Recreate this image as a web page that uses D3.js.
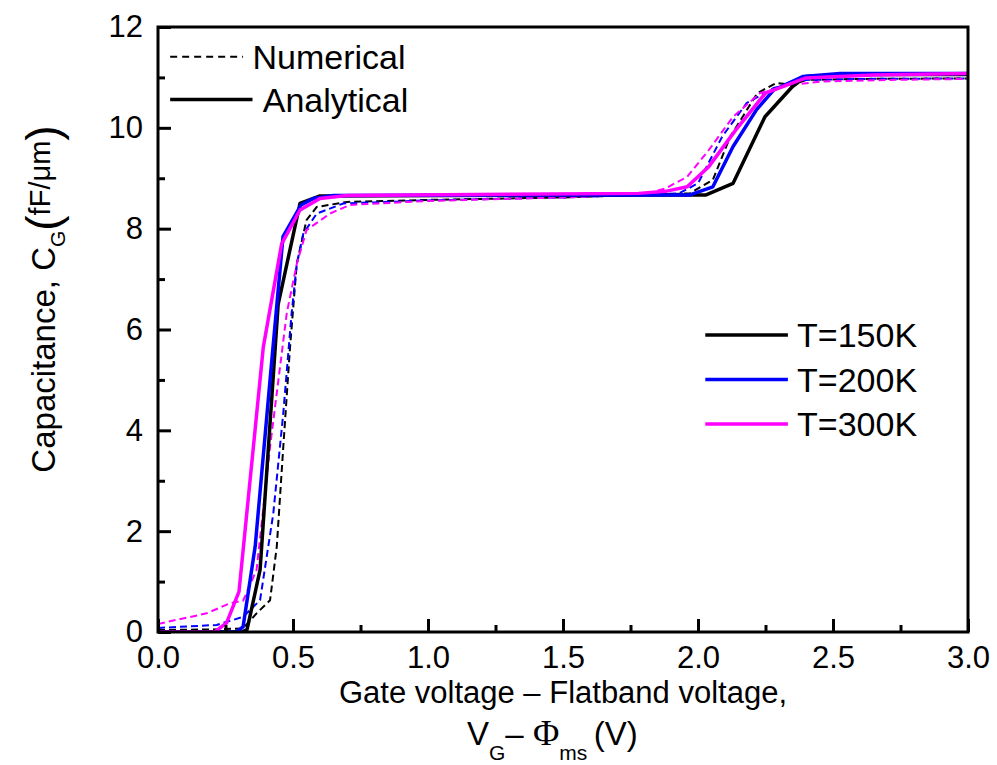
<!DOCTYPE html>
<html lang="en">
<head>
  <meta charset="UTF-8" />
  <title>Gate capacitance vs voltage</title>
  <script src="https://cdn.jsdelivr.net/npm/d3@7/dist/d3.min.js"></script>
  <style>
    body { margin: 0; background: #fff; font-family: Arial, "Liberation Sans", sans-serif; }
    #viz { width: 997px; height: 765px; }
    text { font-family: Arial, "Liberation Sans", sans-serif; fill: #000; }
  </style>
</head>
<body>
  <div id="viz"></div>

  <script>
  // Analytical (solid) curves, [V, C]
  const ana150 = [[0,0],[0.31,0],[0.33,0.05],[0.378,1.23],[0.445,6.5],[0.526,8.5],[0.6,8.65],[1.8,8.67],[2.03,8.67],[2.13,8.9],[2.248,10.22],[2.35,10.82],[2.40,11.02],[2.55,11.06],[3.0,11.06]];
  const ana200 = [[0,0],[0.29,0],[0.315,0.1],[0.36,1.7],[0.415,5.0],[0.463,7.84],[0.53,8.47],[0.575,8.6],[0.65,8.66],[1.8,8.67],[1.97,8.67],[2.055,8.83],[2.13,9.63],[2.217,10.36],[2.28,10.75],[2.39,11.02],[2.526,11.08],[3.0,11.08]];
  const ana300 = [[0,0],[0.21,0],[0.254,0.18],[0.30,0.8],[0.39,5.65],[0.458,7.7],[0.526,8.37],[0.6,8.6],[0.7,8.66],[1.78,8.7],[1.88,8.74],[1.96,8.83],[2.04,9.23],[2.14,9.96],[2.25,10.69],[2.40,10.99],[2.65,11.05],[3.0,11.08]];
  // Numerical (dashed) curves
  const num150 = [[0,0.04],[0.2,0.05],[0.315,0.07],[0.365,0.37],[0.415,0.63],[0.44,1.7],[0.464,3.67],[0.489,5.65],[0.514,7.3],[0.55,8.17],[0.588,8.43],[0.7,8.53],[1.0,8.57],[1.5,8.62],[1.97,8.7],[2.055,8.97],[2.12,9.83],[2.22,10.69],[2.29,10.89],[2.35,10.85],[2.40,10.95],[2.6,10.97],[3.0,10.98]];
  const num200 = [[0,0.08],[0.217,0.14],[0.315,0.3],[0.378,0.63],[0.427,2.35],[0.464,4.34],[0.495,6.33],[0.514,7.3],[0.538,7.9],[0.588,8.3],[0.686,8.5],[1.0,8.56],[1.5,8.62],[1.93,8.7],[2.0,8.9],[2.09,9.83],[2.18,10.49],[2.28,10.79],[2.40,10.95],[2.6,10.97],[3.0,10.98]];
  const num300 = [[0,0.16],[0.18,0.37],[0.267,0.57],[0.315,0.62],[0.365,1.23],[0.415,3.67],[0.477,6.33],[0.514,7.3],[0.55,7.97],[0.637,8.3],[0.71,8.47],[1.0,8.55],[1.5,8.62],[1.8,8.68],[1.88,8.8],[1.96,9.03],[2.04,9.56],[2.13,10.22],[2.23,10.69],[2.34,10.85],[2.46,10.92],[2.7,10.95],[3.0,10.97]];

  const series = [
    { data: num150, color: '#000000', dashed: true },
    { data: num200, color: '#0000ff', dashed: true },
    { data: num300, color: '#ff00ff', dashed: true },
    { data: ana150, color: '#000000', dashed: false },
    { data: ana200, color: '#0000ff', dashed: false },
    { data: ana300, color: '#ff00ff', dashed: false }
  ];

  const xMajor = [0, 0.5, 1.0, 1.5, 2.0, 2.5, 3.0];
  const xMinor = [0.25, 0.75, 1.25, 1.75, 2.25, 2.75];
  const yMajor = [0, 2, 4, 6, 8, 10, 12];
  const yMinor = [1, 3, 5, 7, 9, 11];

  const tempLegend = [
    { label: 'T=150K', color: '#000000' },
    { label: 'T=200K', color: '#0000ff' },
    { label: 'T=300K', color: '#ff00ff' }
  ];

  function drawViz() {
    const margin = { top: 27, right: 29, bottom: 133, left: 158 };
    const W = 997, H = 765;
    const width = W - margin.left - margin.right;
    const height = H - margin.top - margin.bottom;

    const svg = d3.select('#viz').append('svg')
      .attr('width', W).attr('height', H);
    const g = svg.append('g')
      .attr('transform', `translate(${margin.left},${margin.top})`);

    const x = d3.scaleLinear().domain([0, 3]).range([0, width]);
    const y = d3.scaleLinear().domain([0, 12]).range([height, 0]);

    g.append('clipPath').attr('id', 'clip')
      .append('rect').attr('width', width).attr('height', height);

    // Curves
    const line = d3.line().x(d => x(d[0])).y(d => y(d[1]));
    g.append('g').attr('clip-path', 'url(#clip)')
      .selectAll('path').data(series).enter()
      .append('path')
        .attr('d', d => line(d.data))
        .attr('fill', 'none')
        .attr('stroke', d => d.color)
        .attr('stroke-width', d => d.dashed ? 2 : 3.5)
        .attr('stroke-dasharray', d => d.dashed ? '7 4' : null)
        .attr('stroke-linejoin', 'round');

    // Axes (inward ticks)
    const xAx = g.append('g').attr('transform', `translate(0,${height})`)
      .call(d3.axisBottom(x).tickValues(xMajor).tickSize(-13).tickPadding(14).tickFormat(d3.format('.1f')));
    g.append('g').attr('transform', `translate(0,${height})`)
      .call(d3.axisBottom(x).tickValues(xMinor).tickSize(-7).tickFormat(''));
    g.append('g')
      .call(d3.axisLeft(y).tickValues(yMajor).tickSize(-13).tickPadding(15).tickFormat(d3.format('d')));
    g.append('g')
      .call(d3.axisLeft(y).tickValues(yMinor).tickSize(-7).tickFormat(''));
    g.selectAll('.domain').remove();
    g.selectAll('.tick line').attr('stroke', '#000').attr('stroke-width', 3);
    g.selectAll('.tick text').style('font-size', '31px').attr('fill', '#000');
    xAx.selectAll('.tick text').attr('dy', '0.7em');

    // Frame
    g.append('rect').attr('width', width).attr('height', height)
      .attr('fill', 'none').attr('stroke', '#000').attr('stroke-width', 3);

    // Legend: line styles
    const leg1 = g.append('g');
    leg1.append('line')
      .attr('x1', x(0.045)).attr('x2', x(0.315)).attr('y1', y(11.41)).attr('y2', y(11.41))
      .attr('stroke', '#000').attr('stroke-width', 2).attr('stroke-dasharray', '7 5');
    leg1.append('text').attr('x', x(0.35)).attr('y', y(11.41)).attr('dy', '0.36em')
      .style('font-size', '34px').text('Numerical');
    leg1.append('line')
      .attr('x1', x(0.045)).attr('x2', x(0.35)).attr('y1', y(10.56)).attr('y2', y(10.56))
      .attr('stroke', '#000').attr('stroke-width', 3.5);
    leg1.append('text').attr('x', x(0.388)).attr('y', y(10.56)).attr('dy', '0.36em')
      .style('font-size', '34px').text('Analytical');

    // Legend: temperatures
    const leg2 = g.selectAll('.tleg').data(tempLegend).enter().append('g')
      .attr('transform', (d, i) => `translate(0,${y(5.89) + i * 44.5})`);
    leg2.append('line')
      .attr('x1', x(2.027)).attr('x2', x(2.333)).attr('y1', 0).attr('y2', 0)
      .attr('stroke', d => d.color).attr('stroke-width', 3.5);
    leg2.append('text').attr('x', x(2.367)).attr('dy', '0.36em')
      .style('font-size', '34px').text(d => d.label);

    // Axis titles
    svg.append('text')
      .attr('x', 563).attr('y', 703).attr('text-anchor', 'middle')
      .style('font-size', '31px')
      .text('Gate voltage \u2013 Flatband voltage,');

    const t2 = svg.append('text')
      .attr('x', 467).attr('y', 745)
      .style('font-size', '33px');
    t2.append('tspan').text('V');
    t2.append('tspan').attr('dy', 15).style('font-size', '21px').text('G');
    t2.append('tspan').attr('dy', -15).text('\u2013 ');
    t2.append('tspan').style('font-family', '"Liberation Serif", "Times New Roman", serif').style('font-size', '36px').text('\u03A6');
    t2.append('tspan').attr('dy', 15).style('font-size', '21px').text('ms');
    t2.append('tspan').attr('dy', -15).text('\u2009(V)');

    const yt = svg.append('text')
      .attr('transform', 'translate(55,299) rotate(-90)')
      .attr('text-anchor', 'middle')
      .style('font-size', '33px');
    yt.append('tspan').text('Capacitance, C');
    yt.append('tspan').attr('dy', 10).style('font-size', '21px').text('G');
    yt.append('tspan').attr('dy', -6).style('font-size', '46px').text('(');
    yt.append('tspan').attr('dy', -9).style('font-size', '29px').text('fF/\u03BCm');
    yt.append('tspan').attr('dy', 9).style('font-size', '46px').text(')');
  }

  document.addEventListener('DOMContentLoaded', drawViz);
  </script>
</body>
</html>
